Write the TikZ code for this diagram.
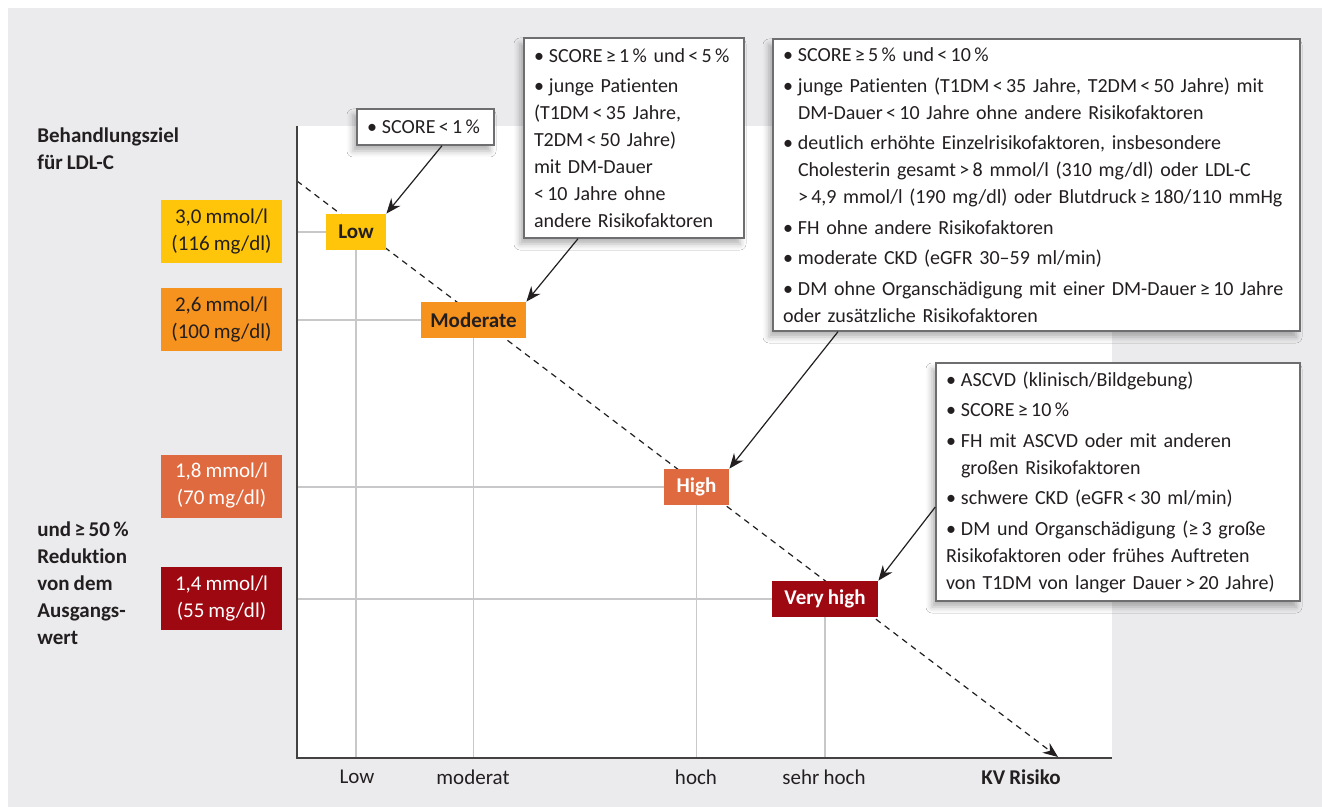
\documentclass[tikz,border=0pt]{standalone}
\usepackage{fontspec}
\setmainfont{Carlito}[Ligatures={TeX,NoCommon}, WordSpace=0.85]
\usetikzlibrary{arrows.meta, calc, positioning, shadows.blur}
\definecolor{bggrey}{RGB}{235,235,237}
\definecolor{gridgrey}{RGB}{200,200,202}
\definecolor{calloutgrey}{RGB}{110,110,112}
\definecolor{inkcol}{RGB}{35,31,32}
\definecolor{lowcol}{RGB}{255,197,10}
\definecolor{modcol}{RGB}{246,146,30}
\definecolor{highcol}{RGB}{223,106,63}
\definecolor{vhighcol}{RGB}{158,8,16}
\newcommand{\firstbul}[1]{\raggedright\hangindent=7.5pt\hangafter=1\noindent\makebox[7.5pt][l]{\textbullet}#1}
\newcommand{\bul}[1]{\par\vskip1.75pt\firstbul{#1}}

\begin{document}
\begin{tikzpicture}[x=0.5pt, y=-0.5pt, >={Stealth[length=7.5pt,width=6pt]},
  every node/.style={font=\fontsize{10}{13.5}\selectfont, text=inkcol},
  levelbox/.style={minimum width=60.5pt, minimum height=31.5pt, inner sep=0pt, align=center, font=\fontsize{10.5}{13.5}\selectfont},
  riskbox/.style={minimum height=18pt, inner sep=0pt, font=\bfseries\fontsize{10.5}{12}\selectfont},
  callout/.style={draw=calloutgrey, line width=0.7pt, fill=white, align=left, inner xsep=5pt, inner ysep=0pt,
    blur shadow={shadow xshift=-2pt, shadow yshift=-3pt, shadow blur radius=3pt, shadow opacity=30}},
  grid line/.style={draw=gridgrey, line width=0.8pt},
  trend/.style={->, dashed, dash pattern=on 3pt off 2.5pt, line width=0.6pt, draw=inkcol},
  pointer/.style={->, line width=0.6pt, draw=inkcol},
  tick/.style={font=\fontsize{10.5}{12}\selectfont, inner sep=0pt}]
  \useasboundingbox (0,0) rectangle (1322,807);
  % grey panel and white plot field
  \fill[bggrey] (8,8) rectangle (1322,807);
  \fill[white] (297,126) rectangle (1112,758);
  \coordinate (O) at (297,758);
  \coordinate (ytop) at (297,126);
  \coordinate (xend) at (1112,758);
  % dashed trend from low to very high risk
  \coordinate (trendA) at (297,181);
  \coordinate (trendB) at (1058,757);
  \draw[trend] (trendA) -- (trendB);
  % risk categories on the trend
  \node[riskbox, fill=lowcol, minimum width=30pt] (low) at (356,232) {Low};
  \node[riskbox, fill=modcol, minimum width=52.5pt] (moderate) at (473.5,320) {Moderate};
  \node[riskbox, fill=highcol, minimum width=32.5pt, text=white] (high) at (696.5,487) {High};
  \node[riskbox, fill=vhighcol, minimum width=53pt, text=white] (vhigh) at (825,599) {Very high};
  \foreach \r in {low,moderate,high,vhigh}{
    \draw[grid line] (\r.west) -- (\r.west -| O);
    \draw[grid line] (\r.south) -- (\r.south |- O);}
  % axes
  \draw[line width=1pt, draw=inkcol!85] (ytop) -- (O) -- (xend);
  \node[tick] (tlow) at (357,777) {Low};
  \node[tick] (tmod) at (473,777) {moderat};
  \node[tick] (thigh) at (696,777) {hoch};
  \node[tick] (tvhigh) at (824,777) {sehr hoch};
  \node[tick, font=\bfseries\fontsize{10.5}{12}\selectfont] (taxis) at (1021,777) {KV Risiko};
  % LDL-C goals
  \node[levelbox, fill=lowcol] (goal30) at (221.5,232) {3,0 mmol/l\\(116 mg/dl)};
  \node[levelbox, fill=modcol] (goal26) at (221.5,320) {2,6 mmol/l\\(100 mg/dl)};
  \node[levelbox, fill=highcol, text=white] (goal18) at (221.5,486) {1,8 mmol/l\\(70 mg/dl)};
  \node[levelbox, fill=vhighcol, text=white] (goal14) at (221.5,598.5) {1,4 mmol/l\\(55 mg/dl)};
  \node[anchor=west, align=left, inner sep=0pt, font=\bfseries\fontsize{10.5}{13.5}\selectfont] (goaltitle) at (37,148.5) {Behandlungsziel\\für LDL-C};
  \node[anchor=west, align=left, inner sep=0pt, font=\bfseries\fontsize{10.5}{13.5}\selectfont] (reduction) at (37,583.5) {und\,≥\,50\,\%\\Reduktion\\von dem\\Ausgangs-\\wert};
  % criteria callouts
  \node[callout, text width=58.5pt, minimum height=18pt] (crlow) at (425.5,127) {\firstbul{SCORE\,<\,1\,\%}};
  \node[callout, text width=100pt, minimum height=100pt] (crmod) at (634,138) {%
    \firstbul{SCORE\,≥\,1\,\% und\,<\,5\,\%}
    \bul{junge Patienten\newline (T1DM\,<\,35 Jahre,\newline T2DM\,<\,50 Jahre)\newline mit DM-Dauer\newline <\,10 Jahre ohne\newline andere Risikofaktoren}};
  \node[callout, text width=253.5pt, minimum height=146pt] (crhigh) at (1036.5,185) {%
    \firstbul{SCORE\,≥\,5\,\% und\,<\,10\,\%}
    \bul{junge Patienten (T1DM\,<\,35 Jahre, T2DM\,<\,50 Jahre) mit\newline DM-Dauer\,<\,10 Jahre ohne andere Risikofaktoren}
    \bul{deutlich erhöhte Einzelrisikofaktoren, insbesondere\newline Cholesterin gesamt\,>\,8 mmol/l (310 mg/dl) oder LDL-C\newline >\,4,9 mmol/l (190 mg/dl) oder Blutdruck\,≥\,180/110 mmHg}
    \bul{FH ohne andere Risikofaktoren}
    \bul{moderate CKD (eGFR 30–59 ml/min)}
    \bul{DM ohne Organschädigung mit einer DM-Dauer\,≥\,10 Jahre\newline oder zusätzliche Risikofaktoren}};
  \node[callout, text width=172pt, minimum height=119pt] (crvhigh) at (1118,482) {%
    \firstbul{ASCVD (klinisch/Bildgebung)}
    \bul{SCORE\,≥\,10\,\%}
    \bul{FH mit ASCVD oder mit anderen\newline großen Risikofaktoren}
    \bul{schwere CKD (eGFR\,<\,30 ml/min)}
    \bul{DM und Organschädigung (≥\,3 große\newline Risikofaktoren oder frühes Auftreten\newline von T1DM von langer Dauer\,>\,20 Jahre)}};
  % pointers to the categories
  \draw[pointer] ($(crlow.south)+(16.5,0)$) -- (low.north east);
  \draw[pointer] ($(crmod.south)+(-56,0)$) -- (moderate.north east);
  \draw[pointer] ($(crhigh.south)+(-198.5,0)$) -- (high.north east);
  \draw[pointer] ($(crvhigh.west)+(0,25)$) -- (vhigh.north east);
\end{tikzpicture}
\end{document}
